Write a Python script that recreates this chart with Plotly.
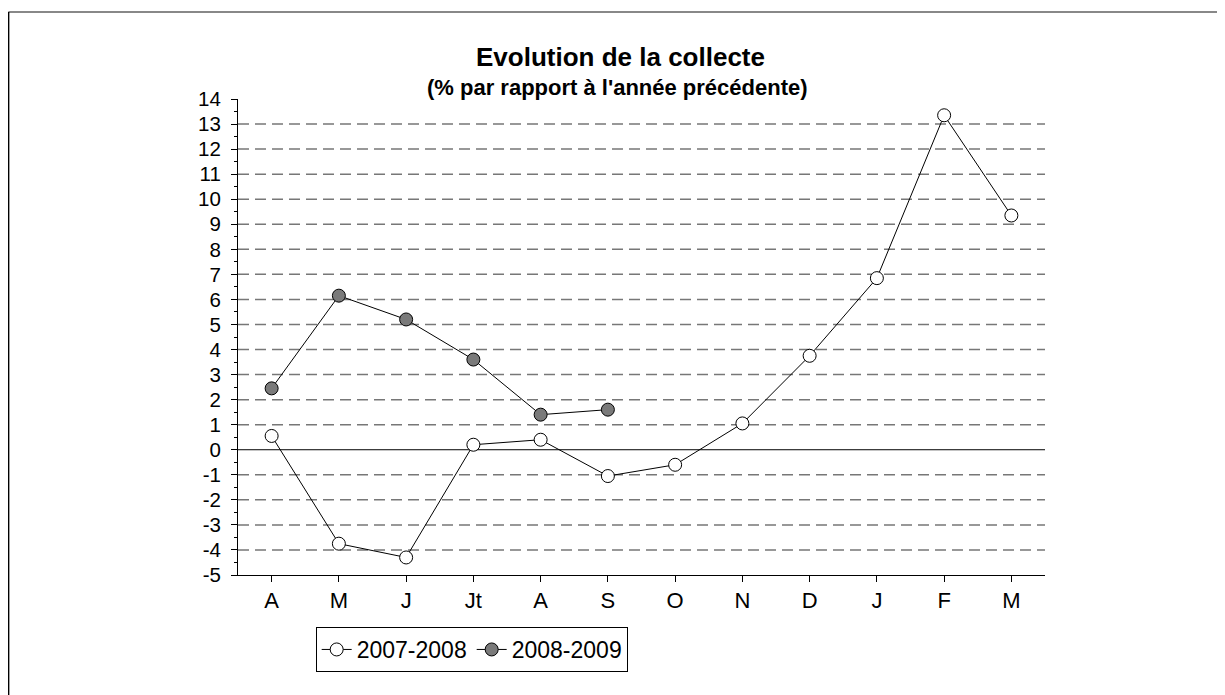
import plotly.graph_objects as go

months = ["A", "M", "J", "Jt", "A", "S", "O", "N", "D", "J", "F", "M"]
serie_2007_2008 = [0.55, -3.75, -4.3, 0.2, 0.4, -1.05, -0.6, 1.05, 3.75, 6.85, 13.35, 9.35]
serie_2008_2009 = [2.45, 6.15, 5.2, 3.6, 1.4, 1.6]
grid_levels = [-4, -3, -2, -1, 1, 2, 3, 4, 5, 6, 7, 8, 9, 10, 11, 12, 13]
y_ticks = list(range(-5, 15))

OFF = 8  # default page body margin
W, H = 1225 - OFF, 695 - OFF
L, R, T, B = 238.4 - OFF, 1044.6 - OFF, 99 - OFF, 575 - OFF
pw, ph = R - L, B - T

def px(x):
    return (x - OFF - L) / pw

def py(y):
    return (B - (y - OFF)) / ph

xs = list(range(len(months)))

fig = go.Figure()
fig.add_trace(go.Scatter(
    x=xs, y=serie_2007_2008, mode="lines+markers", name="2007-2008",
    line=dict(color="black", width=1),
    marker=dict(size=13, color="white", line=dict(color="black", width=1)),
))
fig.add_trace(go.Scatter(
    x=xs[:len(serie_2008_2009)], y=serie_2008_2009, mode="lines+markers", name="2008-2009",
    line=dict(color="black", width=1),
    marker=dict(size=13, color="#7a7a7a", line=dict(color="black", width=1)),
))

shapes = []
for g in grid_levels:
    shapes.append(dict(type="line", xref="paper", yref="y", x0=0, x1=1, y0=g, y1=g,
                       line=dict(color="#777777", width=1.5, dash="11px,6px"), layer="below"))
shapes.append(dict(type="line", xref="paper", yref="y", x0=0, x1=1, y0=0, y1=0,
                   line=dict(color="black", width=1), layer="below"))
# outer frame
shapes.append(dict(type="line", xref="paper", yref="paper", x0=px(9), x1=px(1230), y0=py(12), y1=py(12),
                   line=dict(color="#888888", width=2)))
shapes.append(dict(type="line", xref="paper", yref="paper", x0=px(9), x1=px(9), y0=py(12), y1=py(700),
                   line=dict(color="black", width=2)))

fig.update_layout(
    width=W, height=H,
    margin=dict(l=L, r=W - R, t=T, b=H - B, pad=0),
    paper_bgcolor="white", plot_bgcolor="white",
    font=dict(family="Liberation Sans, Arial", size=20, color="black"),
    shapes=shapes,
    showlegend=True,
    legend=dict(orientation="h", x=px(316), y=py(627), xanchor="left", yanchor="top",
                bordercolor="black", borderwidth=1, bgcolor="white",
                font=dict(size=23), itemwidth=30, tracegroupgap=0),
    annotations=[
        dict(text="<b>Evolution de la collecte</b>", xref="paper", yref="paper",
             x=px(621), y=py(57), showarrow=False, font=dict(size=26), xanchor="center", yanchor="middle"),
        dict(text="<b>(% par rapport à l'année précédente)</b>", xref="paper", yref="paper",
             x=px(618), y=py(87), showarrow=False, font=dict(size=22), xanchor="center", yanchor="middle"),
    ],
    xaxis=dict(range=[-0.5, len(months) - 0.5], tickmode="array", tickvals=xs, ticktext=months,
               showline=True, linecolor="black", linewidth=1, ticks="outside", ticklen=6,
               tickcolor="black", showgrid=False, zeroline=False, tickfont=dict(size=22)),
    yaxis=dict(range=[-5, 14], tickmode="array", tickvals=y_ticks, ticktext=[str(v) for v in y_ticks],
               showline=True, linecolor="black", linewidth=1, ticks="outside", ticklen=6,
               tickcolor="black", showgrid=False, zeroline=False, ticklabelstandoff=6,
               tickfont=dict(size=20.5),
               minor=dict(dtick=0.5, ticks="outside", ticklen=3, tickcolor="black", showgrid=False)),
)

fig.write_html("out.html")
